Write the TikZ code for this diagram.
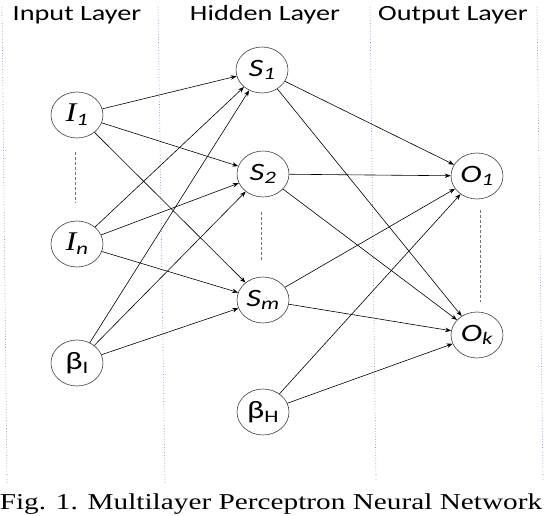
\documentclass[tikz,border=0pt]{standalone}
\usepackage{fontspec}
\setmainfont{Carlito}
\newfontfamily\layerfont[FakeStretch=1.3]{Carlito}
\newfontfamily\serifit[FakeStretch=1.2]{Liberation Serif}
\newfontfamily\capfont[FakeStretch=1.29]{Liberation Serif}
\usetikzlibrary{shapes.geometric,arrows.meta}
\definecolor{sepblue}{RGB}{110,150,215}
\tikzset{
  neuron/.style={draw=black!75, line width=0.6pt, ellipse, minimum width=52pt,
    minimum height=46pt, inner sep=0pt, font=\layerfont\fontsize{25}{25}\selectfont},
  layertitle/.style={anchor=base, font=\layerfont\fontsize{21.7}{22}\selectfont},
  sepline/.style={sepblue, dotted, line width=0.7pt},
  gapline/.style={black!55, densely dashed, line width=0.5pt},
  wire/.style={-{Stealth[length=6pt,width=4.5pt]}, line width=0.6pt},
}
\begin{document}
\begin{tikzpicture}[x=1pt, y=-1pt]
   \useasboundingbox (0,0) rectangle (544,516);
   % layer separators
   \draw[sepline] (2,7)--(7,483);
   \draw[sepline] (158,7)--(165,483);
   \draw[sepline] (370,7)--(376,482);
   \draw[sepline] (537,7)--(543,480);
   % titles
   \node[layertitle] (tin) at (77,21) {Input Layer};
   \node[layertitle] (thid) at (265,21) {Hidden Layer};
   \node[layertitle] (tout) at (453,21) {Output Layer};
   % input layer
   \node[neuron] (I1) at (77,115) {{\serifit\itshape\fontsize{27}{27}\selectfont I}\textsubscript{\itshape 1}};
   \node[neuron] (In) at (77,244) {{\serifit\itshape\fontsize{27}{27}\selectfont I}\textsubscript{\itshape n}};
   \node[neuron] (BI) at (77,363) {β\textsubscript{I}};
   % hidden layer
   \node[neuron] (S1) at (262,70) {\itshape S\textsubscript{1}};
   \node[neuron] (S2) at (263,174) {\itshape S\textsubscript{2}};
   \node[neuron] (Sm) at (263,300) {\itshape S\textsubscript{m}};
   \node[neuron] (BH) at (263,412) {β\textsubscript{H}};
   % output layer
   \node[neuron] (O1) at (477,176) {\itshape O\textsubscript{1}};
   \node[neuron] (Ok) at (477,335) {\itshape O\textsubscript{k}};
   % skipped neurons
   \draw[gapline] (75,152)--(75,203);
   \draw[gapline] (261,212)--(261,260);
   \draw[gapline] (480,210)--(480,302);
   % input to hidden
   \draw[wire] (I1)--(S1);
   \draw[wire] (I1)--(S2);
   \draw[wire] (I1)--(Sm);
   \draw[wire] (In)--(S1);
   \draw[wire] (In)--(S2);
   \draw[wire] (In)--(Sm);
   \draw[wire] (BI)--(S1);
   \draw[wire] (BI)--(S2);
   \draw[wire] (BI)--(Sm);
   % hidden to output
   \draw[wire] (S1)--(O1);
   \draw[wire] (S1)--(Ok);
   \draw[wire] (S2)--(O1);
   \draw[wire] (S2)--(Ok);
   \draw[wire] (Sm)--(O1);
   \draw[wire] (Sm)--(Ok);
   \draw[wire] (BH)--(O1);
   \draw[wire] (BH)--(Ok);
   % caption
   \node[anchor=base, font=\capfont\fontsize{22.7}{23}\selectfont] (cap) at (271,509)
     {Fig. 1. Multilayer Perceptron Neural Network};
\end{tikzpicture}
\end{document}
